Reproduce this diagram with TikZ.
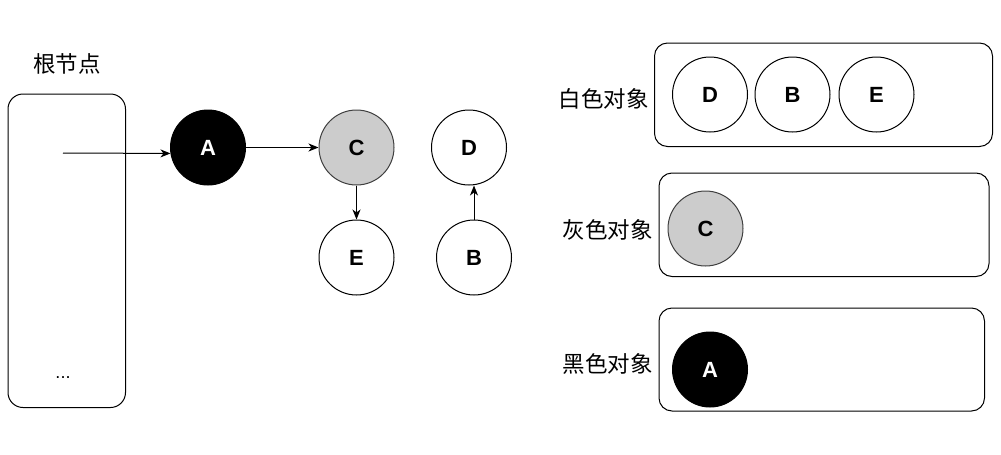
\documentclass[tikz,border=0pt]{standalone}
\usepackage{fontspec}
\setmainfont{Liberation Sans}
\newfontfamily\cjk{Noto Sans CJK SC}
\usetikzlibrary{arrows.meta}
\begin{document}
\begin{tikzpicture}[x=1pt,y=-1pt,
  obj/.style={circle,draw=black,line width=1pt,minimum size=75pt,inner sep=0pt,font=\fontsize{22}{22}\selectfont\bfseries},
  whiteobj/.style={obj,fill=white},
  grayobj/.style={obj,fill=black!20,draw=black!75},
  blackobj/.style={obj,fill=black,text=white},
  panel/.style={draw=black,line width=1pt,rounded corners=13pt},
  lbl/.style={font=\cjk\fontsize{22.5}{22.5}\selectfont,inner sep=0pt},
  conn/.style={line width=1pt,-{Stealth[length=10pt,width=8pt,inset=3pt]}}]
\useasboundingbox (0,0) rectangle (1001,455);
% root set
\node[lbl] (rootlbl) at (67,64) {根节点};
\draw[panel,rounded corners=15pt] (8,94) rectangle (125.5,407.5);
\node[font=\fontsize{18}{18}\selectfont,inner sep=0pt,anchor=base] (dots) at (63,378.5) {...};
\coordinate (rs) at (63,153);
% graph
\node[blackobj] (A) at (208,147.5) {A};
\node[grayobj] (C) at (356.5,147.5) {C};
\node[whiteobj] (E) at (356.5,257.5) {E};
\node[whiteobj] (D) at (469,147.5) {D};
\node[whiteobj] (B) at (474,257.5) {B};
\draw[conn] (rs) -- (A.189);
\draw[conn] (A) -- (C);
\draw[conn] (C) -- (E);
\draw[conn] (B.north) -- (B.north |- D.south);
% white set
\draw[panel] (654.5,43) rectangle (992.5,146.5);
\node[lbl] (wl) at (603.5,98.5) {白色对象};
\node[whiteobj] (D2) at (710,94.5) {D};
\node[whiteobj] (B2) at (792.5,94.5) {B};
\node[whiteobj] (E2) at (876.5,94.5) {E};
% gray set
\draw[panel] (659,173) rectangle (989,276.5);
\node[lbl] (gl) at (607.5,229.5) {灰色对象};
\node[grayobj] (C2) at (705.5,228.5) {C};
% black set
\draw[panel] (659,308) rectangle (984.5,411);
\node[lbl] (bl) at (607.5,363.5) {黑色对象};
\node[blackobj] (A2) at (710,369.5) {A};
\end{tikzpicture}
\end{document}
